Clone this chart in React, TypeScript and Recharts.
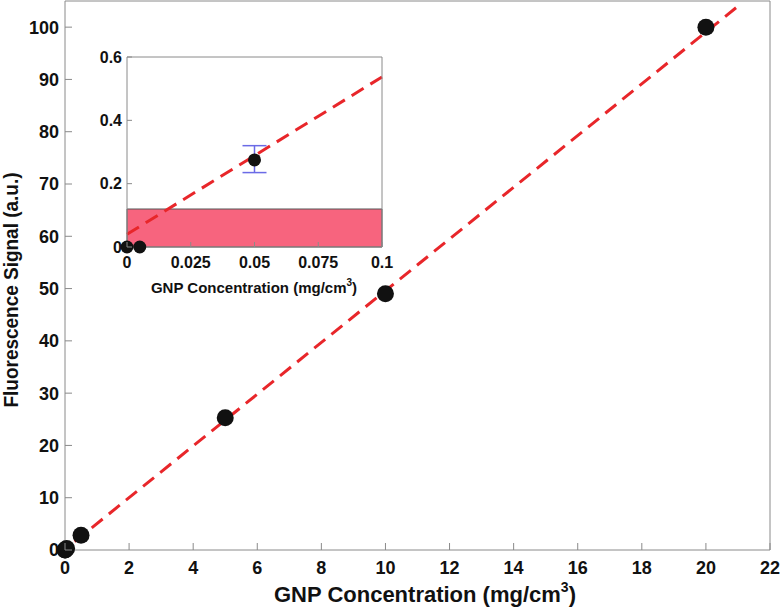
import React from "react";
import {
  ComposedChart,
  XAxis,
  YAxis,
  Scatter,
  Line,
  ErrorBar,
  ReferenceArea,
} from "recharts";

// ---------- data ----------
const concentration = [0, 0.005, 0.05, 0.5, 5, 10, 20];
const signal = [0, 0, 0.275, 2.8, 25.3, 49, 100];

const mainXTicks = [0, 2, 4, 6, 8, 10, 12, 14, 16, 18, 20, 22];
const mainYTicks = [0, 10, 20, 30, 40, 50, 60, 70, 80, 90, 100];

const mainFitX = [0.3, 21.1];
const mainFitY = [1.6, 104.5];

const insetConc = [0, 0.005, 0.05];
const insetSignal = [0, 0, 0.275];
const insetErrLow = [null, null, 0.04];
const insetErrHigh = [null, null, 0.045];

const insetXTicks = [0, 0.025, 0.05, 0.075, 0.1];
const insetYTicks = [0, 0.2, 0.4, 0.6];

const insetFitX = [0, 0.1];
const insetFitY = [0.04, 0.537];

const detectionLimit = 0.12;

// ---------- derived tables ----------
const mainPoints = concentration.map((x, i) => ({ x, y: signal[i] }));
const mainFit = mainFitX.map((x, i) => ({ x, y: mainFitY[i] }));
const insetZeroPts = insetConc
  .map((x, i) => ({ x, y: insetSignal[i], err: insetErrLow[i] }))
  .filter((d) => d.err == null)
  .map(({ x, y }) => ({ x, y }));
const insetErrPts = insetConc
  .map((x, i) => ({ x, y: insetSignal[i], lo: insetErrLow[i], hi: insetErrHigh[i] }))
  .filter((d) => d.lo != null)
  .map((d) => ({ x: d.x, y: d.y, err: [d.lo, d.hi] }));
const insetFit = insetFitX.map((x, i) => ({ x, y: insetFitY[i] }));

// ---------- styles ----------
const FONT = "'Liberation Sans', Arial, Helvetica, sans-serif";
const AXIS = "#8a8a8a";
const RED = "#e8262a";
const TEXT = "#111";

const fmtInset = (v: number) => (v === 0 ? "0" : String(v));

const bottomTick = (len: number, dy: number, size: number, fmt: (v: number) => string) => (p: any) => (
  <g>
    <line x1={p.x} y1={p.y} x2={p.x} y2={p.y - len} stroke={AXIS} strokeWidth={1} />
    <text x={p.x} y={p.y + dy} textAnchor="middle" fontFamily={FONT} fontWeight="bold" fontSize={size} fill={TEXT}>
      {fmt(p.payload.value)}
    </text>
  </g>
);
const leftTick = (len: number, dx: number, size: number, fmt: (v: number) => string) => (p: any) => (
  <g>
    <line x1={p.x} y1={p.y} x2={p.x + len} y2={p.y} stroke={AXIS} strokeWidth={1} />
    <text x={p.x - dx} y={p.y + size * 0.36} textAnchor="end" fontFamily={FONT} fontWeight="bold" fontSize={size} fill={TEXT}>
      {fmt(p.payload.value)}
    </text>
  </g>
);
const topTick = (len: number) => (p: any) => (
  <line x1={p.x} y1={p.y} x2={p.x} y2={p.y + len} stroke={AXIS} strokeWidth={1} />
);
const rightTick = (len: number) => (p: any) => (
  <line x1={p.x} y1={p.y} x2={p.x - len} y2={p.y} stroke={AXIS} strokeWidth={1} />
);

const dot = (r: number) => (p: any) => <circle cx={p.cx} cy={p.cy} r={r} fill="#111" />;

export default function App() {
  return (
    <div style={{ position: "absolute", left: 0, top: 0, width: 780, height: 608, background: "#fff" }}>
      {/* main chart */}
      <div style={{ position: "absolute", left: 0, top: 0 }}>
        <ComposedChart width={780} height={608} margin={{ top: 0, right: 9, bottom: 57, left: 64 }}>
          <XAxis
            xAxisId={0}
            dataKey="x"
            type="number"
            domain={[0, 22]}
            ticks={mainXTicks}
            interval={0}
            height={1}
            tickSize={0}
            tickMargin={0}
            axisLine={{ stroke: AXIS }}
            tickLine={false}
            tick={bottomTick(7, 24, 18, (v) => String(v))}
          />
          <XAxis
            xAxisId="top"
            orientation="top"
            type="number"
            domain={[0, 22]}
            ticks={mainXTicks}
            interval={0}
            height={1}
            tickSize={0}
            tickMargin={0}
            axisLine={{ stroke: AXIS }}
            tickLine={false}
            tick={topTick(7)}
          />
          <YAxis
            yAxisId={0}
            dataKey="y"
            type="number"
            domain={[0, 105]}
            ticks={mainYTicks}
            interval={0}
            width={1}
            tickSize={0}
            tickMargin={0}
            axisLine={{ stroke: AXIS }}
            tickLine={false}
            tick={leftTick(7, 6, 18, (v) => String(v))}
          />
          <YAxis
            yAxisId="right"
            orientation="right"
            type="number"
            domain={[0, 105]}
            ticks={mainYTicks}
            interval={0}
            width={1}
            tickSize={0}
            tickMargin={0}
            axisLine={{ stroke: AXIS }}
            tickLine={false}
            tick={rightTick(7)}
          />
          <Line
            data={mainFit}
            dataKey="y"
            type="linear"
            stroke={RED}
            strokeWidth={3}
            strokeDasharray="14 8"
            dot={false}
            activeDot={false}
            isAnimationActive={false}
          />
          <Scatter data={mainPoints} shape={dot(8.5)} isAnimationActive={false} />
        </ComposedChart>
      </div>

      {/* inset chart */}
      <div style={{ position: "absolute", left: 80, top: 45 }}>
        <ComposedChart width={330} height={255} margin={{ top: 11, right: 27, bottom: 52, left: 46 }}>
          <XAxis
            xAxisId={0}
            dataKey="x"
            type="number"
            domain={[0, 0.1]}
            ticks={insetXTicks}
            interval={0}
            height={1}
            tickSize={0}
            tickMargin={0}
            axisLine={{ stroke: AXIS }}
            tickLine={false}
            tick={bottomTick(5, 21, 16, fmtInset)}
          />
          <XAxis
            xAxisId="top"
            orientation="top"
            type="number"
            domain={[0, 0.1]}
            ticks={insetXTicks}
            interval={0}
            height={1}
            tickSize={0}
            tickMargin={0}
            axisLine={{ stroke: AXIS }}
            tickLine={false}
            tick={topTick(5)}
          />
          <YAxis
            yAxisId={0}
            dataKey="y"
            type="number"
            domain={[0, 0.6]}
            ticks={insetYTicks}
            interval={0}
            width={1}
            tickSize={0}
            tickMargin={0}
            axisLine={{ stroke: AXIS }}
            tickLine={false}
            tick={leftTick(5, 5, 16, fmtInset)}
          />
          <YAxis
            yAxisId="right"
            orientation="right"
            type="number"
            domain={[0, 0.6]}
            ticks={insetYTicks}
            interval={0}
            width={1}
            tickSize={0}
            tickMargin={0}
            axisLine={{ stroke: AXIS }}
            tickLine={false}
            tick={rightTick(5)}
          />
          <ReferenceArea
            x1={0}
            x2={0.1}
            y1={0}
            y2={detectionLimit}
            fill="#f7647e"
            fillOpacity={1}
            stroke="#555"
            strokeWidth={1}
            ifOverflow="visible"
          />
          <Line
            data={insetFit}
            dataKey="y"
            type="linear"
            stroke={RED}
            strokeWidth={3}
            strokeDasharray="14 8"
            dot={false}
            activeDot={false}
            isAnimationActive={false}
          />
          <Scatter data={insetErrPts} shape={dot(6.5)} isAnimationActive={false}>
            <ErrorBar dataKey="err" direction="y" width={12} stroke="#6b6be6" strokeWidth={1.5} />
          </Scatter>
          <Scatter data={insetZeroPts} shape={dot(6.5)} isAnimationActive={false} />
        </ComposedChart>
      </div>

      {/* titles */}
      <svg width={780} height={608} style={{ position: "absolute", left: 0, top: 0, pointerEvents: "none" }}>
        <text x={425} y={602} textAnchor="middle" fontFamily={FONT} fontWeight="bold" fontSize={22} fill={TEXT}>
          GNP Concentration (mg/cm
          <tspan fontSize={14} dy={-10}>3</tspan>
          <tspan dy={10}>)</tspan>
        </text>
        <text
          x={18}
          y={290}
          transform="rotate(-90 18 290)"
          textAnchor="middle"
          fontFamily={FONT}
          fontWeight="bold"
          fontSize={21}
          fill={TEXT}
          textLength={235}
          lengthAdjust="spacingAndGlyphs"
        >
          Fluorescence Signal (a.u.)
        </text>
        <text x={254} y={293} textAnchor="middle" fontFamily={FONT} fontWeight="bold" fontSize={15} fill={TEXT}>
          GNP Concentration (mg/cm
          <tspan fontSize={10} dy={-7}>3</tspan>
          <tspan dy={7}>)</tspan>
        </text>
      </svg>
    </div>
  );
}
